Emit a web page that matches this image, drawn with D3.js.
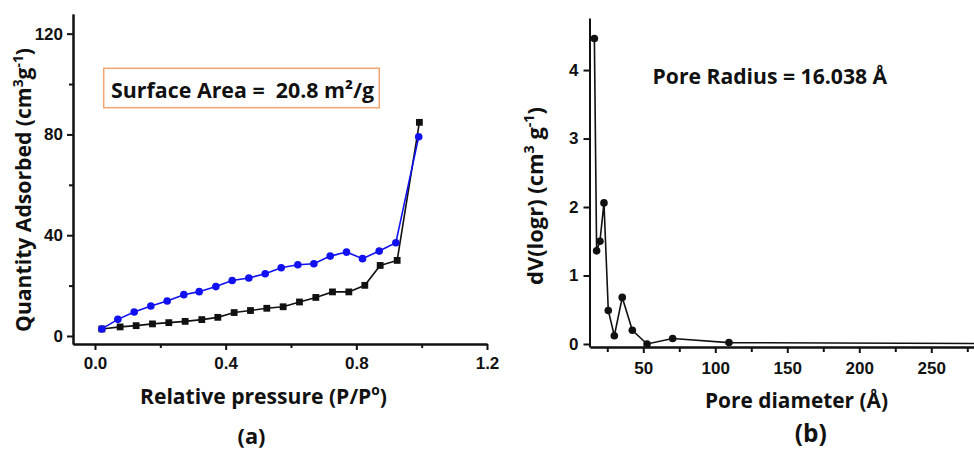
<!DOCTYPE html>
<html>
<head>
<meta charset="utf-8">
<script src="https://cdn.jsdelivr.net/npm/d3@7"></script>
<style>
  body { margin: 0; background: #fff; }
  svg { display: block; }
  .lbl { font-family: "Open Sans", Lato, sans-serif; font-weight: 700; fill: #111; }
  .tick text { font-family: "Liberation Sans", Arial, sans-serif; font-weight: 700; fill: #111; }
</style>
</head>
<body>
<svg id="chart" width="974" height="450"></svg>
<script>
// Panel (a): N2 isotherm, adsorption branch (squares) and desorption branch (circles)
const adsP = [0.021, 0.077, 0.126, 0.176, 0.226, 0.276, 0.327, 0.376, 0.426, 0.476,
              0.526, 0.576, 0.626, 0.676, 0.727, 0.777, 0.826, 0.873, 0.925, 0.993];
const adsQ = [2.8, 3.6, 4.1, 4.8, 5.3, 5.8, 6.5, 7.4, 9.3, 10.1,
              11.0, 11.6, 13.5, 15.3, 17.5, 17.5, 20.1, 28.0, 30.0, 84.8];
const desP = [0.021, 0.070, 0.120, 0.171, 0.221, 0.272, 0.319, 0.370, 0.420, 0.471,
              0.521, 0.570, 0.621, 0.670, 0.720, 0.770, 0.819, 0.870, 0.921, 0.991];
const desQ = [2.8, 6.6, 9.5, 11.9, 13.9, 16.4, 17.6, 19.6, 22.0, 23.0,
              24.7, 27.1, 28.3, 28.7, 31.7, 33.3, 30.7, 33.7, 37.0, 79.1];
const xTicksA = [0, 0.4, 0.8, 1.2];
const xMinorA = [0.2, 0.6, 1.0];
const yTicksA = [0, 40, 80, 120];
const yMinorA = [20, 60, 100];

// Panel (b): BJH pore size distribution
const poreD = [16.038, 17.6, 19.9, 22.7, 25.7, 29.9, 35.4, 42.4, 52.6, 70.4, 109.5, 320];
const poreV = [4.46, 1.36, 1.50, 2.06, 0.49, 0.12, 0.68, 0.20, 0.0, 0.08, 0.02, 0.005];
const xTicksB = [50, 100, 150, 200, 250];
const xMinorB = [25, 75, 125, 175, 225, 275];
const yTicksB = [0, 1, 2, 3, 4];

const svg = d3.select("#chart");
const ink = "#111";

function styleAxis(g) {
  g.select(".domain").attr("stroke", ink).attr("stroke-width", 2);
  g.selectAll(".tick line").attr("stroke", ink).attr("stroke-width", 2);
  g.selectAll(".tick text").attr("font-size", 17);
}

// scale a label's font so that its run of text spans the given width
function fitWidth(sel, w) {
  const fs = +sel.attr("font-size");
  const bw = sel.node().getBBox().width;
  sel.attr("font-size", (fs * w / bw).toFixed(2));
  return sel;
}

// superscript helper: text, raised part, then back to the baseline
function addSup(sel, sup, after) {
  sel.append("tspan").attr("font-size", "0.65em").attr("dy", "-0.6em").text(sup);
  sel.append("tspan").attr("dy", "0.39em").text(after);
}

// ---------- panel (a) ----------
const xA = d3.scaleLinear([-0.0673, 1.2], [73, 487]);
const yA = d3.scaleLinear([-3.18, 127.8], [344, 14]);

svg.append("g").attr("transform", "translate(0,344)")
  .call(d3.axisBottom(xA).tickValues(xMinorA).tickSize(4).tickSizeOuter(0).tickFormat(""))
  .call(styleAxis);
svg.append("g").attr("transform", "translate(0,344)")
  .call(d3.axisBottom(xA).tickValues(xTicksA).tickSize(6).tickPadding(7).tickSizeOuter(0)
        .tickFormat(d3.format(".1f")))
  .call(styleAxis);
svg.append("g").attr("transform", "translate(73,0)")
  .call(d3.axisLeft(yA).tickValues(yMinorA).tickSize(4).tickSizeOuter(0).tickFormat(""))
  .call(styleAxis);
svg.append("g").attr("transform", "translate(73,0)")
  .call(d3.axisLeft(yA).tickValues(yTicksA).tickSize(6).tickPadding(4).tickSizeOuter(0)
        .tickFormat(d3.format("d")))
  .call(styleAxis);

const ads = adsP.map((p, i) => [p, adsQ[i]]);
const des = desP.map((p, i) => [p, desQ[i]]);
const lineA = d3.line().x(d => xA(d[0])).y(d => yA(d[1]));

svg.append("path").datum(ads).attr("d", lineA)
  .attr("fill", "none").attr("stroke", ink).attr("stroke-width", 1.6);
svg.append("g").selectAll("rect").data(ads).join("rect")
  .attr("x", d => xA(d[0]) - 3.4).attr("y", d => yA(d[1]) - 3.4)
  .attr("width", 6.8).attr("height", 6.8).attr("fill", ink);

svg.append("path").datum(des).attr("d", lineA)
  .attr("fill", "none").attr("stroke", "#1010f0").attr("stroke-width", 1.6);
svg.append("g").selectAll("circle").data(des).join("circle")
  .attr("cx", d => xA(d[0])).attr("cy", d => yA(d[1])).attr("r", 3.8)
  .attr("fill", "#1010f0");

// annotation box
svg.append("rect").attr("x", 103.7).attr("y", 68.3).attr("width", 275.6).attr("height", 39.4)
  .attr("fill", "#fff").attr("stroke", "#f4a46e").attr("stroke-width", 1.5);
fitWidth(svg.append("text").attr("class", "lbl").attr("x", 111).attr("y", 97.5)
  .attr("font-size", 20).style("white-space", "pre")
  .text("Surface Area =  20.8 m²/g"), 264);

// axis titles
const yTitleA = svg.append("text").attr("class", "lbl")
  .attr("transform", "translate(31,190) rotate(-90)")
  .attr("text-anchor", "middle").attr("font-size", 21);
yTitleA.append("tspan").text("Quantity Adsorbed (cm");
addSup(yTitleA, "3", "g");
addSup(yTitleA, "-1", ")");
fitWidth(yTitleA, 284);

const xTitleA = svg.append("text").attr("class", "lbl")
  .attr("x", 263.5).attr("y", 403.5).attr("text-anchor", "middle").attr("font-size", 21);
xTitleA.append("tspan").text("Relative pressure (P/P");
addSup(xTitleA, "o", ")");
fitWidth(xTitleA, 247);

fitWidth(svg.append("text").attr("class", "lbl").attr("x", 251.5).attr("y", 443.5)
  .attr("text-anchor", "middle").attr("font-size", 22).text("(a)"), 28);

// ---------- panel (b) ----------
const xB = d3.scaleLinear([13, 300], [590, 590 + 287 * 1.44]);
const yB = d3.scaleLinear([-0.044, 4.76], [347, 18]);

svg.append("g").attr("transform", "translate(0,347)")
  .call(d3.axisBottom(xB).tickValues(xMinorB).tickSize(5).tickSizeOuter(0).tickFormat(""))
  .call(styleAxis);
svg.append("g").attr("transform", "translate(0,347)")
  .call(d3.axisBottom(xB).tickValues(xTicksB).tickSize(6).tickPadding(9).tickSizeOuter(0)
        .tickFormat(d3.format("d")))
  .call(styleAxis);
svg.append("g").attr("transform", "translate(589.5,0)")
  .call(d3.axisLeft(yB).tickValues(yTicksB).tickSize(6).tickPadding(5).tickSizeOuter(0)
        .tickFormat(d3.format("d")))
  .call(styleAxis);

const pore = poreD.map((d, i) => [d, poreV[i]]);
const lineB = d3.line().x(d => xB(d[0])).y(d => yB(d[1]));
svg.append("path").datum(pore).attr("d", lineB)
  .attr("fill", "none").attr("stroke", ink).attr("stroke-width", 1.6);
svg.append("g").selectAll("circle").data(pore).join("circle")
  .attr("cx", d => xB(d[0])).attr("cy", d => yB(d[1])).attr("r", 3.8).attr("fill", ink);

fitWidth(svg.append("text").attr("class", "lbl").attr("x", 652.5).attr("y", 84.3)
  .attr("font-size", 20).text("Pore Radius = 16.038 Å"), 235);

const yTitleB = svg.append("text").attr("class", "lbl")
  .attr("transform", "translate(542.5,196) rotate(-90)")
  .attr("text-anchor", "middle").attr("font-size", 19);
yTitleB.append("tspan").text("dV(logr) (cm");
addSup(yTitleB, "3", " g");
addSup(yTitleB, "-1", ")");
fitWidth(yTitleB, 178);

fitWidth(svg.append("text").attr("class", "lbl").attr("x", 796.5).attr("y", 408.3)
  .attr("text-anchor", "middle").attr("font-size", 21).text("Pore diameter (Å)"), 183);
fitWidth(svg.append("text").attr("class", "lbl").attr("x", 810.7).attr("y", 441.7)
  .attr("text-anchor", "middle").attr("font-size", 22).text("(b)"), 32);
</script>
</body>
</html>
